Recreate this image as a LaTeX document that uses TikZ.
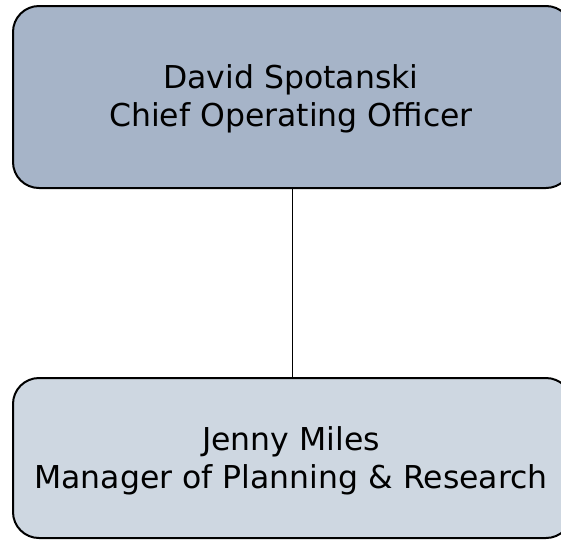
\documentclass[tikz,border=0pt]{standalone}
\usepackage{fontspec}
\setmainfont{DejaVu Sans}
\definecolor{topfill}{HTML}{A6B4C8}
\definecolor{botfill}{HTML}{CED7E1}
\begin{document}
\begin{tikzpicture}[x=1pt,y=-1pt,
  orgbox/.style={draw=black,line width=2pt,rounded corners=26pt,inner sep=0pt},
  orgtext/.style={anchor=base,font=\fontsize{31.5}{38}\selectfont,text=black,inner sep=0pt}]
\clip (0,0) rectangle (561,539);
\node[orgbox,fill=topfill,minimum width=559pt,minimum height=182pt] (coo) at (292.5,97) {};
\node[orgbox,fill=botfill,minimum width=559pt,minimum height=160pt] (mgr) at (292.5,458) {};
\node[orgtext] (cooname) at (291,88) {David Spotanski};
\node[orgtext] (cootitle) at (291,126) {Chief Operating Officer};
\node[orgtext] (mgrname) at (291,450) {Jenny Miles};
\node[orgtext] (mgrtitle) at (291,488.5) {Manager of Planning \& Research};
\draw[line width=1.9pt] (coo.south) -- (mgr.north);
\end{tikzpicture}
\end{document}
